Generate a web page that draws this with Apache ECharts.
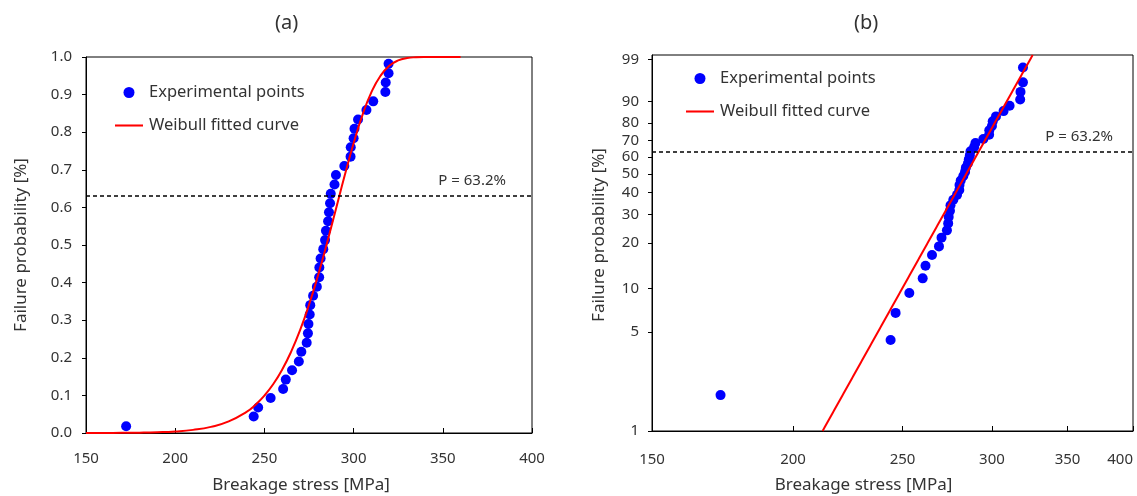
<!DOCTYPE html>
<html><head><meta charset="utf-8">
<script src="https://cdn.jsdelivr.net/npm/echarts@6/dist/echarts.min.js"></script>
<style>html,body{margin:0;padding:0;background:#fff}#c{width:1137px;height:496px}</style>
</head><body><div id="c"></div>
<script>
// Experimental points (breakage stress in MPa, failure probability as fraction)
const stress = [172.5, 244.0, 246.5, 253.5, 260.5, 262.0, 265.5, 269.3, 270.7, 273.7,
  274.4, 274.7, 275.4, 275.7, 277.3, 279.4, 280.7, 280.8, 281.5, 283.0,
  284.0, 284.5, 285.7, 286.2, 286.8, 287.2, 289.3, 290.1, 294.8, 298.3,
  298.4, 300.0, 300.5, 302.5, 307.2, 311.0, 317.8, 318.0, 319.6, 319.6];
const failureProb = [0.018, 0.044, 0.068, 0.093, 0.117, 0.142, 0.167, 0.190, 0.216, 0.240,
  0.265, 0.290, 0.315, 0.340, 0.365, 0.389, 0.414, 0.440, 0.464, 0.489,
  0.513, 0.538, 0.563, 0.587, 0.611, 0.636, 0.661, 0.686, 0.710, 0.735,
  0.760, 0.784, 0.809, 0.834, 0.859, 0.882, 0.907, 0.932, 0.957, 0.982];
// Weibull fitted curve, panel (a)
const curveStress = [150, 160, 170, 180, 190, 200, 210, 220, 230, 240, 245, 250, 255, 260, 265, 270,
  275, 280, 285, 290, 295, 300, 305, 310, 315, 320, 325, 330, 335, 340, 350, 360];
const curveProb = [0.0001, 0.0002, 0.0004, 0.0009, 0.0020, 0.0041, 0.0083, 0.0163, 0.0308, 0.0563, 0.0752, 0.0994, 0.1302, 0.1688, 0.2163, 0.2735,
  0.3410, 0.4182, 0.5034, 0.5937, 0.6847, 0.7707, 0.8461, 0.9064, 0.9496, 0.9766, 0.9909, 0.9972, 0.9993, 0.9999, 1.0, 1.0];
// Weibull fitted line, panel (b), end points
const lineStress = [212.4, 326.0];
const lineProb = [0.01, 0.9929];
const pLevel = 0.632;
// Tick labels
const xTicks = [150, 200, 250, 300, 350, 400];
const yTicksB = [1, 5, 10, 20, 30, 40, 50, 60, 70, 80, 90, 99];

const W = F => Math.log(-Math.log(1 - F));
const FONT = 'Noto Sans';
const txt = '#333';
const pLabel = 'P = ' + (pLevel * 100).toFixed(1) + '%';

const ptsA = stress.map((s, i) => [s, failureProb[i]]);
const curveA = curveStress.map((s, i) => [s, curveProb[i]]);
const ptsB = stress.map((s, i) => [Math.log(s), W(failureProb[i])]);
const lineB = lineStress.map((s, i) => [Math.log(s), W(lineProb[i])]);

const axisLine = {show: true, onZero: false, lineStyle: {color: '#000', width: 1}};
const labelStyle = {color: txt, fontSize: 15, fontFamily: FONT};
const nameStyle = {color: txt, fontSize: 17, fontFamily: FONT};
const lineIcon = 'path://M0,0h30v2.2h-30z';

const markLineCfg = (yv, dist) => ({
  silent: true, symbol: 'none',
  lineStyle: {color: '#000', type: [4, 3], width: 1.5},
  label: {show: true, position: 'insideEndTop', formatter: pLabel, color: txt, fontSize: 15, fontFamily: FONT, distance: dist},
  data: [{yAxis: yv}]
});

const legendCfg = (left, top) => ({
  left, top, orient: 'vertical', itemGap: 16, itemWidth: 28, itemHeight: 11,
  textStyle: {fontSize: 16.5, color: txt, fontFamily: FONT, padding: [0, 0, 0, 1]},
  data: [{name: 'Experimental points', icon: 'circle'}, {name: 'Weibull fitted curve', icon: lineIcon}]
});

const chart = echarts.init(document.getElementById('c'));
chart.setOption({
  animation: false,
  backgroundColor: '#fff',
  title: [
    {text: '(a)', left: 270, top: 8, textStyle: {fontSize: 20, fontWeight: 'normal', color: txt, fontFamily: FONT}},
    {text: '(b)', left: 849, top: 8, textStyle: {fontSize: 20, fontWeight: 'normal', color: txt, fontFamily: FONT}}
  ],
  legend: [legendCfg(110, 79), legendCfg(681, 65)],
  grid: [
    {left: 86, top: 57, width: 446, height: 376, show: true, borderColor: '#000', borderWidth: 1, containLabel: false, outerBoundsMode: 'none'},
    {left: 652, top: 55, width: 481, height: 376, show: true, borderColor: '#000', borderWidth: 1, containLabel: false, outerBoundsMode: 'none'}
  ],
  xAxis: [
    {type: 'value', gridIndex: 0, min: 150, max: 400, interval: 50,
     axisLine, axisTick: {show: true, inside: true, length: 5, lineStyle: {color: '#000'}},
     axisLabel: {...labelStyle, margin: 18}, splitLine: {show: false},
     name: 'Breakage stress [MPa]', nameLocation: 'middle', nameGap: 44,
     nameTextStyle: {...nameStyle, padding: [0, 16, 0, 0]}},
    {type: 'value', gridIndex: 1, min: Math.log(150), max: Math.log(400),
     axisLine,
     axisTick: {show: true, inside: true, length: 5, lineStyle: {color: '#000'}, customValues: xTicks.map(Math.log)},
     axisLabel: {...labelStyle, margin: 21, customValues: xTicks.map(Math.log), alignMaxLabel: 'right',
       formatter: v => String(Math.round(Math.exp(v)))},
     splitLine: {show: false},
     name: 'Breakage stress [MPa]', nameLocation: 'middle', nameGap: 46,
     nameTextStyle: {...nameStyle, padding: [0, 58, 0, 0]}}
  ],
  yAxis: [
    {type: 'value', gridIndex: 0, min: 0, max: 1, interval: 0.1,
     axisLine, axisTick: {show: true, inside: false, length: 4, lineStyle: {color: '#000'}},
     axisLabel: {...labelStyle, margin: 14, formatter: v => v.toFixed(1)}, splitLine: {show: false},
     name: 'Failure probability [%]', nameLocation: 'middle', nameGap: 56, nameTextStyle: nameStyle},
    {type: 'value', gridIndex: 1, min: W(0.01), max: W(0.99) + 0.07,
     axisLine,
     axisTick: {show: true, inside: false, length: 4, lineStyle: {color: '#000'}, customValues: yTicksB.map(p => W(p / 100))},
     axisLabel: {...labelStyle, margin: 13, customValues: yTicksB.map(p => W(p / 100)),
       formatter: v => String(Math.round(100 * (1 - Math.exp(-Math.exp(v)))))},
     splitLine: {show: false},
     name: 'Failure probability [%]', nameLocation: 'middle', nameGap: 44,
     nameTextStyle: {...nameStyle, padding: [0, 0, 0, 16]}}
  ],
  series: [
    {name: 'Weibull fitted curve', type: 'line', xAxisIndex: 0, yAxisIndex: 0, data: curveA, smooth: true,
     symbol: 'none', lineStyle: {color: '#ff0000', width: 2}, itemStyle: {color: '#ff0000'}, z: 3,
     markLine: markLineCfg(pLevel, [26, 8])},
    {name: 'Experimental points', type: 'scatter', xAxisIndex: 0, yAxisIndex: 0, data: ptsA,
     symbolSize: 10, itemStyle: {color: '#0000ff', opacity: 1}, z: 2},
    {name: 'Weibull fitted curve', type: 'line', xAxisIndex: 1, yAxisIndex: 1, data: lineB,
     symbol: 'none', lineStyle: {color: '#ff0000', width: 2}, itemStyle: {color: '#ff0000'}, z: 3,
     markLine: markLineCfg(W(pLevel), [20, 8])},
    {name: 'Experimental points', type: 'scatter', xAxisIndex: 1, yAxisIndex: 1, data: ptsB,
     symbolSize: 10, itemStyle: {color: '#0000ff', opacity: 1}, z: 2}
  ]
});
</script></body></html>
